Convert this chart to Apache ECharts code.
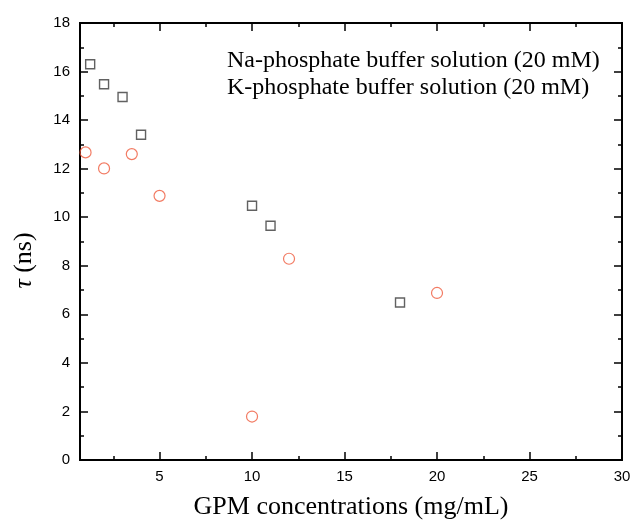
<!DOCTYPE html>
<html>
<head>
<meta charset="utf-8">
<script src="https://cdn.jsdelivr.net/npm/echarts@6/dist/echarts.min.js"></script>
<style>
  html, body { margin: 0; padding: 0; background: #fff; }
  #chart { width: 631px; height: 521px; }
</style>
</head>
<body>
<div id="chart"></div>
<script>
// data
const naConc = [1.25, 2, 3, 4, 10, 11, 18]
const naTau = [16.3, 15.48, 14.95, 13.4, 10.47, 9.65, 6.49]
const kConc = [1, 2, 3.5, 5, 10, 12, 20]
const kTau = [12.67, 12.01, 12.6, 10.88, 1.79, 8.29, 6.88]

const xMajor = [5, 10, 15, 20, 25, 30]
const xMinor = [2.5, 7.5, 12.5, 17.5, 22.5, 27.5]
const seriesNames = ['Na-phosphate buffer solution (20 mM)', 'K-phosphate buffer solution (20 mM)']

const chart = echarts.init(document.getElementById('chart'))

const serif = '"Liberation Serif", "DejaVu Serif", serif'
const sans = '"Liberation Sans", Arial, sans-serif'
const axisLine = { show: true, onZero: false, lineStyle: { color: '#000', width: 2 } }
const xMin = 0.7
const xMax = 30

const pair = (xs, ys) => xs.map((x, i) => [x, ys[i]])

// helper for the extra x axes that only carry ticks
const tickX = (position, values, len, label) => ({
  type: 'value',
  position: position,
  min: xMin,
  max: xMax,
  axisLine: axisLine,
  splitLine: { show: false },
  axisTick: { show: true, inside: true, length: len, customValues: values, lineStyle: { color: '#000', width: 1.5 } },
  axisLabel: label
    ? { show: true, customValues: values, color: '#000', fontFamily: sans, fontSize: 15, margin: 9 }
    : { show: false }
})

const option = {
  animation: false,
  backgroundColor: '#fff',
  grid: { left: 80, right: 9, top: 23, bottom: 61, outerBoundsMode: 'none' },
  legend: {
    orient: 'vertical',
    left: 216,
    top: 44,
    itemWidth: 0,
    itemHeight: 0,
    itemGap: 3,
    itemStyle: { opacity: 0 },
    textStyle: { fontFamily: serif, fontSize: 24, color: '#000' },
    data: seriesNames
  },
  xAxis: [
    Object.assign(tickX('bottom', xMajor, 8, true), {
      name: 'GPM concentrations (mg/mL)',
      nameLocation: 'middle',
      nameGap: 34,
      nameTextStyle: { fontFamily: serif, fontSize: 26, color: '#000' }
    }),
    tickX('bottom', xMinor, 4, false),
    tickX('top', xMajor, 8, false),
    tickX('top', xMinor, 4, false)
  ],
  yAxis: [
    {
      type: 'value',
      min: 0,
      max: 18,
      interval: 2,
      name: '{i|τ} (ns)',
      nameLocation: 'middle',
      nameRotate: 90,
      nameGap: 43,
      nameTextStyle: {
        fontFamily: serif, fontSize: 26, color: '#000',
        padding: [0, 38, 0, 0],
        rich: { i: { fontFamily: serif, fontSize: 26, fontStyle: 'italic', color: '#000' } }
      },
      axisLine: axisLine,
      splitLine: { show: false },
      axisTick: { inside: true, length: 8, lineStyle: { color: '#000', width: 1.5 } },
      minorTick: { show: true, splitNumber: 2, length: 4, lineStyle: { color: '#000', width: 1.5 } },
      axisLabel: { color: '#000', fontFamily: sans, fontSize: 15, margin: 10 }
    },
    {
      type: 'value',
      position: 'right',
      min: 0,
      max: 18,
      interval: 2,
      axisLine: axisLine,
      splitLine: { show: false },
      axisTick: { inside: true, length: 8, lineStyle: { color: '#000', width: 1.5 } },
      minorTick: { show: true, splitNumber: 2, length: 4, lineStyle: { color: '#000', width: 1.5 } },
      axisLabel: { show: false }
    }
  ],
  series: [
    {
      name: seriesNames[0],
      type: 'scatter',
      symbol: 'rect',
      symbolSize: 9,
      data: pair(naConc, naTau),
      itemStyle: { color: 'rgba(0,0,0,0)', borderColor: '#3a3a3a', borderWidth: 1.4 }
    },
    {
      name: seriesNames[1],
      type: 'scatter',
      symbol: 'circle',
      symbolSize: 11,
      data: pair(kConc, kTau),
      itemStyle: { color: 'rgba(0,0,0,0)', borderColor: '#ef5a3c', borderWidth: 1.2 }
    }
  ]
}

chart.setOption(option)
</script>
</body>
</html>
